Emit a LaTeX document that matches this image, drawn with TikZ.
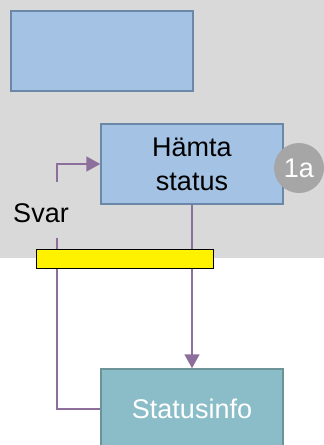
\documentclass[tikz,border=0pt]{standalone}
\usepackage{fontspec}
\setmainfont{Liberation Sans}
\usepackage{xcolor}
\usetikzlibrary{positioning,backgrounds,shapes,calc,arrows.meta}

\definecolor{bggray}{RGB}{217,217,217}
\definecolor{boxblue}{RGB}{163,194,228}
\definecolor{boxblueedge}{RGB}{108,136,168}
\definecolor{boxteal}{RGB}{139,189,200}
\definecolor{boxtealedge}{RGB}{108,148,152}
\definecolor{flowpurple}{RGB}{140,112,155}
\definecolor{badgegray}{RGB}{166,166,166}

\tikzset{
	stepbox/.style   = {draw=boxblueedge, fill=boxblue, line width=1.5pt, minimum width=182pt, minimum height=80pt, align=center, inner sep=0pt},
	databox/.style   = {draw=boxtealedge, fill=boxteal, line width=1.5pt, minimum width=182pt, minimum height=80pt, text=white, inner sep=0pt},
	badge/.style     = {circle, fill=badgegray, minimum size=50pt, inner sep=0pt, text=white},
	flow/.style      = {draw=flowpurple, line width=1.8pt},
	flowarrow/.style = {flow, -{Triangle[length=14pt,width=15pt]}},
}

\begin{document}
\begin{tikzpicture}[x=1pt, y=-1pt, font=\fontsize{27}{34}\selectfont]
	\useasboundingbox (0,0) rectangle (324,445);
	\fill[bggray] (0,0) rectangle (324,258);

	\node [stepbox] (leer)   at (102,51)  {};
	\node [stepbox] (hamta)  at (192,164) {Hämta\\status};
	\node [badge]   (nr)     at (299,168) {1a};
	\node           (svar)   at (41,213)  {Svar};
	\node [databox] (status) at (192,409) {Statusinfo};

	\coordinate (svarup)   at (57,182);
	\coordinate (svardown) at (57,238);

	\draw [flowarrow] (svarup) |- (hamta.west);
	\draw [flow] (svardown) |- (status.west);
	\draw [flowarrow] (hamta.south) -- (status.north);

	\node [draw=black, fill=yellow, line width=1.5pt, minimum width=177pt, minimum height=19pt, inner sep=0pt] (bar) at (125,259) {};
\end{tikzpicture}
\end{document}
